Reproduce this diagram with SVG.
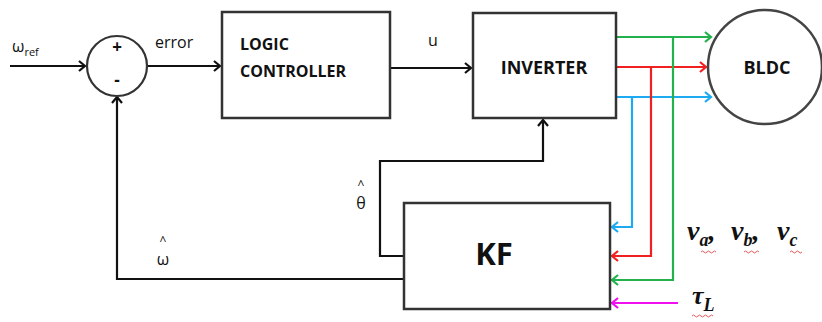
<svg xmlns="http://www.w3.org/2000/svg" width="822" height="322" viewBox="0 0 822 322">
<defs>
<style>
.box{fill:#fff;stroke:#333;stroke-width:2.5}
.ln{fill:none;stroke-width:2.2}
.k{stroke:#111}
.g{stroke:#22b14c}
.r{stroke:#f02020}
.b{stroke:#1eaaf0}
.m{stroke:#ee10ee}
.t{font-family:"Open Sans","Liberation Sans",sans-serif;fill:#111}
.bold{font-weight:bold}
.it{font-family:"Liberation Serif","DejaVu Serif",serif;font-style:italic;font-weight:bold;fill:#111}
.wav{fill:none;stroke:#e03030;stroke-width:0.8}
</style>
<marker id="ak" markerWidth="12" markerHeight="12" refX="9" refY="6" orient="auto" markerUnits="userSpaceOnUse"><path d="M3,1 L9,6 L3,11" fill="none" stroke="#111" stroke-width="2.2"/></marker>
<marker id="ag" markerWidth="12" markerHeight="12" refX="9" refY="6" orient="auto" markerUnits="userSpaceOnUse"><path d="M3,1 L9,6 L3,11" fill="none" stroke="#22b14c" stroke-width="2.2"/></marker>
<marker id="ar" markerWidth="12" markerHeight="12" refX="9" refY="6" orient="auto" markerUnits="userSpaceOnUse"><path d="M3,1 L9,6 L3,11" fill="none" stroke="#f02020" stroke-width="2.2"/></marker>
<marker id="ab" markerWidth="12" markerHeight="12" refX="9" refY="6" orient="auto" markerUnits="userSpaceOnUse"><path d="M3,1 L9,6 L3,11" fill="none" stroke="#1eaaf0" stroke-width="2.2"/></marker>
<marker id="am" markerWidth="12" markerHeight="12" refX="9" refY="6" orient="auto" markerUnits="userSpaceOnUse"><path d="M3,1 L9,6 L3,11" fill="none" stroke="#ee10ee" stroke-width="2.2"/></marker>
</defs>
<rect width="822" height="322" fill="#fff"/>

<g id="connectors">
<path class="ln k" d="M10,66 H85" marker-end="url(#ak)"/>
<path class="ln k" d="M147,66 H220" marker-end="url(#ak)"/>
<path class="ln k" d="M390,68 H471" marker-end="url(#ak)"/>
<path class="ln k" d="M404,256 H380 V161 H543 V120" marker-end="url(#ak)"/>
<path class="ln k" d="M404,279 H117 V97" marker-end="url(#ak)"/>
<path class="ln g" d="M617,37 H711" marker-end="url(#ag)"/>
<path class="ln r" d="M617,67 H706" marker-end="url(#ar)"/>
<path class="ln b" d="M617,97 H711" marker-end="url(#ab)"/>
<path class="ln b" d="M632,97 V227 H612" marker-end="url(#ab)"/>
<path class="ln r" d="M651,67 V256 H612" marker-end="url(#ar)"/>
<path class="ln g" d="M673,37 V280 H612" marker-end="url(#ag)"/>
<path class="ln m" d="M678,303 H612" marker-end="url(#am)"/>
</g>

<g id="sum">
<circle cx="117" cy="66" r="30" fill="#fff" stroke="#333" stroke-width="2.2"/>
<text class="t bold" x="117" y="53" font-size="17" text-anchor="middle">+</text>
<text class="t bold" x="117" y="86" font-size="17" text-anchor="middle">-</text>
</g>

<g id="logic">
<rect class="box" x="222" y="12" width="168" height="106"/>
<text class="t bold" x="240" y="50" font-size="16">LOGIC</text>
<text class="t bold" x="240" y="77" font-size="16">CONTROLLER</text>
</g>

<g id="inverter">
<rect class="box" x="473" y="13" width="143" height="105"/>
<text class="t bold" x="544" y="74" font-size="18" text-anchor="middle">INVERTER</text>
</g>

<g id="bldc">
<circle cx="765" cy="67" r="57" fill="#fff" stroke="#444" stroke-width="2.5"/>
<text class="t bold" x="767" y="74" font-size="18" text-anchor="middle">BLDC</text>
</g>

<g id="kf">
<rect class="box" x="404" y="203" width="206" height="106"/>
<text class="t bold" x="494" y="265" font-size="31" text-anchor="middle">KF</text>
</g>

<g id="labels">
<text class="t" x="12" y="52" font-size="16">ω<tspan font-size="11" dy="4">ref</tspan></text>
<text class="t" x="155" y="48" font-size="16">error</text>
<text class="t" x="428" y="46" font-size="16">u</text>
<text class="t" x="361" y="189" font-size="12" text-anchor="middle">^</text>
<text class="t" x="361" y="209" font-size="16" text-anchor="middle">θ</text>
<text class="t" x="163" y="245" font-size="12" text-anchor="middle">^</text>
<text class="t" x="163" y="265" font-size="16" text-anchor="middle">ω</text>
<text class="it" x="687" y="240" font-size="28">v<tspan font-size="18" dy="6">a</tspan><tspan dy="-6">,</tspan></text>
<text class="it" x="731" y="240" font-size="28">v<tspan font-size="18" dy="6">b</tspan><tspan dy="-6">,</tspan></text>
<text class="it" x="777" y="240" font-size="28">v<tspan font-size="18" dy="6">c</tspan></text>
<text class="it" x="692" y="304" font-size="26">τ<tspan font-size="18" dy="7">L</tspan></text>
<path class="wav" d="M701,252 q1.5,-2 3,0 t3,0 t3,0 t3,0 t3,0"/>
<path class="wav" d="M744,252 q1.5,-2 3,0 t3,0 t3,0 t3,0 t3,0"/>
<path class="wav" d="M790,252 q1.5,-2 3,0 t3,0 t3,0 t3,0"/>
<path class="wav" d="M692,316 q1.5,-2 3,0 t3,0 t3,0 t3,0 t3,0 t3,0 t3,0"/>
</g>
</svg>
